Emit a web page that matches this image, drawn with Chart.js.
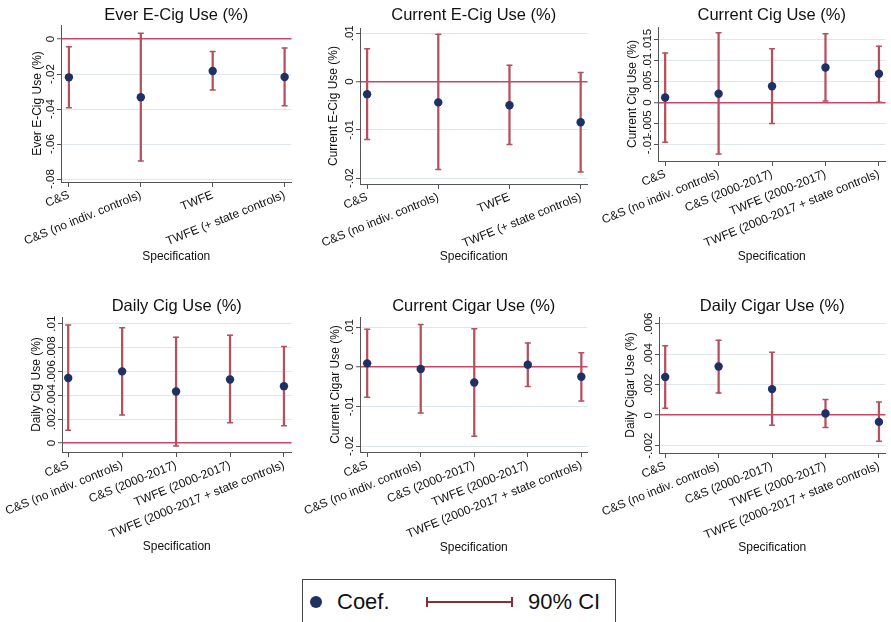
<!DOCTYPE html>
<html><head><meta charset="utf-8">
<script src="https://cdn.jsdelivr.net/npm/chart.js@4/dist/chart.umd.min.js"></script>
<style>
html,body{margin:0;padding:0;background:#fff}
body{width:891px;height:622px;overflow:hidden;position:relative;font-family:"Liberation Sans",Arial,sans-serif}
canvas{position:absolute}
#legend{position:absolute;left:302px;top:579px;width:314px;height:70px;border:1px solid #444;box-sizing:border-box}
</style></head><body>
<div id="legend"></div>
<script>
// ---------- data ----------
const catsShort = ["C&S", "C&S (no indiv. controls)", "TWFE", "TWFE (+ state controls)"];
const catsLong = ["C&S", "C&S (no indiv. controls)", "C&S (2000-2017)", "TWFE (2000-2017)", "TWFE (2000-2017 + state controls)"];

const everEcigCoef = [-0.0219, -0.0333, -0.0183, -0.0217];
const everEcigLo = [-0.0393, -0.0697, -0.0291, -0.0381];
const everEcigHi = [-0.0044, 0.0033, -0.0072, -0.0051];
const everEcigTicks = [-0.08, -0.06, -0.04, -0.02, 0];
const everEcigTickLabels = ["-.08", "-.06", "-.04", "-.02", "0"];

const curEcigCoef = [-0.0026, -0.0043, -0.0049, -0.0084];
const curEcigLo = [-0.0120, -0.0182, -0.0130, -0.0187];
const curEcigHi = [0.0068, 0.0098, 0.0034, 0.0019];
const curEcigTicks = [-0.02, -0.01, 0, 0.01];
const curEcigTickLabels = ["-.02", "-.01", "0", ".01"];

const curCigCoef = [0.0012, 0.0021, 0.0039, 0.0084, 0.0069];
const curCigLo = [-0.0095, -0.0123, -0.0050, 0.0004, 0.0001];
const curCigHi = [0.0119, 0.0167, 0.0129, 0.0165, 0.0135];
const curCigTicks = [-0.01, -0.005, 0, 0.005, 0.01, 0.015];
const curCigTickLabels = ["-.01", "-.005", "0", ".005", ".01", ".015"];

const dailyCigCoef = [0.00544, 0.0060, 0.00431, 0.00532, 0.00476];
const dailyCigLo = [0.00107, 0.00234, -0.00025, 0.00169, 0.00144];
const dailyCigHi = [0.00989, 0.00966, 0.00887, 0.00904, 0.00808];
const dailyCigTicks = [0, 0.002, 0.004, 0.006, 0.008, 0.01];
const dailyCigTickLabels = ["0", ".002", ".004", ".006", ".008", ".01"];

const curCigarCoef = [0.00085, -0.00059, -0.00397, 0.0005, -0.00254];
const curCigarLo = [-0.0077, -0.01167, -0.0175, -0.0050, -0.00862];
const curCigarHi = [0.00947, 0.01065, 0.00955, 0.0060, 0.00355];
const curCigarTicks = [-0.02, -0.01, 0, 0.01];
const curCigarTickLabels = ["-.02", "-.01", "0", ".01"];

const dailyCigarCoef = [0.00251, 0.00319, 0.00171, 0.00011, -0.00044];
const dailyCigarLo = [0.00046, 0.00145, -0.00066, -0.00081, -0.00171];
const dailyCigarHi = [0.00455, 0.00492, 0.00413, 0.00103, 0.00086];
const dailyCigarTicks = [-0.002, 0, 0.002, 0.004, 0.006];
const dailyCigarTickLabels = ["-.002", "0", ".002", ".004", ".006"];

const xTitle = "Specification";
const legendCoef = "Coef.";
const legendCI = "90% CI";

// ---------- styles ----------
const FONT = '"Liberation Sans", Arial, sans-serif';
const NAVY = '#1e3163', CI = '#b5505f', RED = '#cc4466', GRID = '#e0e6ef', AX = '#555555', TXT = '#111111';

const yLabelPlugin = {
  id: 'yLabels',
  afterDraw(chart) {
    const s = chart.scales.y, ctx = chart.ctx;
    ctx.save();
    ctx.font = '11.5px ' + FONT; ctx.fillStyle = TXT;
    ctx.textAlign = 'center'; ctx.textBaseline = 'middle';
    s.ticks.forEach(t => {
      const y = s.getPixelForValue(t.value);
      ctx.save(); ctx.translate(s.right - 10, y); ctx.rotate(-Math.PI / 2);
      ctx.fillText(t.label, 0, 0); ctx.restore();
    });
    ctx.restore();
  }
};

function makePanel(p) {
  const cv = document.createElement('canvas');
  cv.width = p.w; cv.height = p.h;
  cv.style.left = p.x + 'px'; cv.style.top = p.y + 'px';
  cv.style.width = p.w + 'px'; cv.style.height = p.h + 'px';
  document.body.appendChild(cv);
  const L = p.plotL - p.x, T = p.plotT - p.y, B = p.plotB - p.y, R = p.plotR - p.x;
  const tH = 16.5;
  const tTop = p.titleY - p.y - tH / 2;
  new Chart(cv, {
    type: 'scatter',
    data: { datasets: [
      { label: 'Coef.', data: p.coef.map((v, i) => ({x: i, y: v})), pointRadius: 4.2, pointBackgroundColor: NAVY, pointBorderColor: NAVY, pointBorderWidth: 0, order: 0 },
      { label: 'caps', data: p.lo.map((v, i) => ({x: i, y: v})).concat(p.hi.map((v, i) => ({x: i, y: v}))), pointStyle: 'line', pointRadius: 3, pointBorderColor: CI, pointBorderWidth: 1.5, order: 1 },
      { type: 'bar', label: '90% CI', data: p.lo.map((v, i) => ({x: i, y: [v, p.hi[i]]})), backgroundColor: CI, borderWidth: 0, barThickness: 1.6, order: 2 }
    ]},
    options: {
      responsive: false, animation: false, devicePixelRatio: 1,
      layout: { padding: { left: 0, right: p.w - R, top: 0, bottom: 0 } },
      plugins: {
        legend: { display: false }, tooltip: { enabled: false },
        title: { display: true, text: p.title, fullSize: false, color: TXT,
          font: { size: 16.5, family: FONT, weight: 'normal', lineHeight: 1 },
          padding: { top: tTop, bottom: T - tTop - tH } }
      },
      scales: {
        x: {
          type: 'linear', bounds: 'data', min: p.xMin, max: p.xMax, offset: false,
          afterBuildTicks: s => { s.ticks = p.cats.map((c, i) => ({value: i})); },
          afterFit: s => { s.height = p.h - B; },
          ticks: { autoSkip: false, minRotation: 22, maxRotation: 22, padding: 1, color: TXT,
            font: { size: 12, family: FONT }, callback: v => p.cats[v] },
          grid: { offset: false, drawOnChartArea: false, drawTicks: true, tickLength: 5, tickColor: AX, tickWidth: 1 },
          border: { display: true, color: AX, width: 1 },
          title: { display: true, text: xTitle, color: TXT, font: { size: 12, family: FONT },
            padding: { top: 0, bottom: p.h - (p.xtY - p.y) - 7.2 } }
        },
        y: {
          type: 'linear', bounds: 'data', min: p.yMin, max: p.yMax,
          afterBuildTicks: s => { s.ticks = p.ticks.map(v => ({value: v})); },
          afterFit: s => { s.width = L; },
          ticks: { display: false, autoSkip: false, callback: (v, i) => p.tickLabels[i] },
          grid: { color: c => (c.tick && c.tick.value === 0) ? RED : GRID,
                  lineWidth: c => (c.tick && c.tick.value === 0) ? 1.5 : 1,
                  drawTicks: true, tickLength: 4, tickColor: AX, tickWidth: 1 },
          border: { display: true, color: AX, width: 1 },
          title: { display: true, text: p.ytitle, color: TXT, font: { size: 12, family: FONT },
            padding: { top: p.ytX - p.x - 7.2, bottom: 0 } }
        }
      }
    },
    plugins: [yLabelPlugin]
  });
}

const panels = [
  { x: 0, y: 0, w: 297, h: 275, plotL: 61, plotT: 25, plotR: 295, plotB: 182, titleY: 15.5, ytX: 37.5, xtY: 257,
    xMin: -0.11, xMax: 3.096, yMin: -0.0817, yMax: 0.008, title: "Ever E-Cig Use (%)", ytitle: "Ever E-Cig Use (%)",
    cats: catsShort, coef: everEcigCoef, lo: everEcigLo, hi: everEcigHi, ticks: everEcigTicks, tickLabels: everEcigTickLabels },
  { x: 297, y: 0, w: 296, h: 275, plotL: 360, plotT: 28, plotR: 592, plotB: 184, titleY: 15.5, ytX: 334, xtY: 256.7,
    xMin: -0.1, xMax: 3.096, yMin: -0.0212, yMax: 0.0111, title: "Current E-Cig Use (%)", ytitle: "Current E-Cig Use (%)",
    cats: catsShort, coef: curEcigCoef, lo: curEcigLo, hi: curEcigHi, ticks: curEcigTicks, tickLabels: curEcigTickLabels },
  { x: 593, y: 0, w: 298, h: 275, plotL: 658, plotT: 27, plotR: 890, plotB: 161, titleY: 15.5, ytX: 632.7, xtY: 256.7,
    xMin: -0.134, xMax: 4.123, yMin: -0.014, yMax: 0.0181, title: "Current Cig Use (%)", ytitle: "Current Cig Use (%)",
    cats: catsLong, coef: curCigCoef, lo: curCigLo, hi: curCigHi, ticks: curCigTicks, tickLabels: curCigTickLabels },
  { x: 0, y: 291, w: 297, h: 275, plotL: 62, plotT: 317, plotR: 295, plotB: 452, titleY: 306.7, ytX: 36.7, xtY: 546.7,
    xMin: -0.115, xMax: 4.14, yMin: -0.00076, yMax: 0.01056, title: "Daily Cig Use (%)", ytitle: "Daily Cig Use (%)",
    cats: catsLong, coef: dailyCigCoef, lo: dailyCigLo, hi: dailyCigHi, ticks: dailyCigTicks, tickLabels: dailyCigTickLabels },
  { x: 297, y: 291, w: 296, h: 275, plotL: 360, plotT: 317, plotR: 592, plotB: 452, titleY: 306.7, ytX: 336, xtY: 547.3,
    xMin: -0.134, xMax: 4.115, yMin: -0.0215, yMax: 0.01254, title: "Current Cigar Use (%)", ytitle: "Current Cigar Use (%)",
    cats: catsLong, coef: curCigarCoef, lo: curCigarLo, hi: curCigarHi, ticks: curCigarTicks, tickLabels: curCigarTickLabels },
  { x: 593, y: 291, w: 298, h: 275, plotL: 659, plotT: 317, plotR: 890, plotB: 453, titleY: 306.7, ytX: 630.7, xtY: 547.3,
    xMin: -0.116, xMax: 4.123, yMin: -0.00248, yMax: 0.00644, title: "Daily Cigar Use (%)", ytitle: "Daily Cigar Use (%)",
    cats: catsLong, coef: dailyCigarCoef, lo: dailyCigarLo, hi: dailyCigarHi, ticks: dailyCigarTicks, tickLabels: dailyCigarTickLabels }
];
panels.forEach(makePanel);

// ---------- legend ----------
document.body.insertAdjacentHTML('beforeend',
  '<div style="position:absolute;left:310px;top:596px;width:12px;height:12px;border-radius:50%;background:' + NAVY + '"></div>' +
  '<div style="position:absolute;left:337px;top:591px;font-size:22px;line-height:22px;color:#111">' + legendCoef + '</div>' +
  '<div style="position:absolute;left:426px;top:601px;width:87px;height:2px;background:#8c2d3a"></div>' +
  '<div style="position:absolute;left:426px;top:597px;width:2px;height:10px;background:#8c2d3a"></div>' +
  '<div style="position:absolute;left:511px;top:597px;width:2px;height:10px;background:#8c2d3a"></div>' +
  '<div style="position:absolute;left:528px;top:591px;font-size:22px;line-height:22px;color:#111">' + legendCI + '</div>');
</script>
</body></html>
